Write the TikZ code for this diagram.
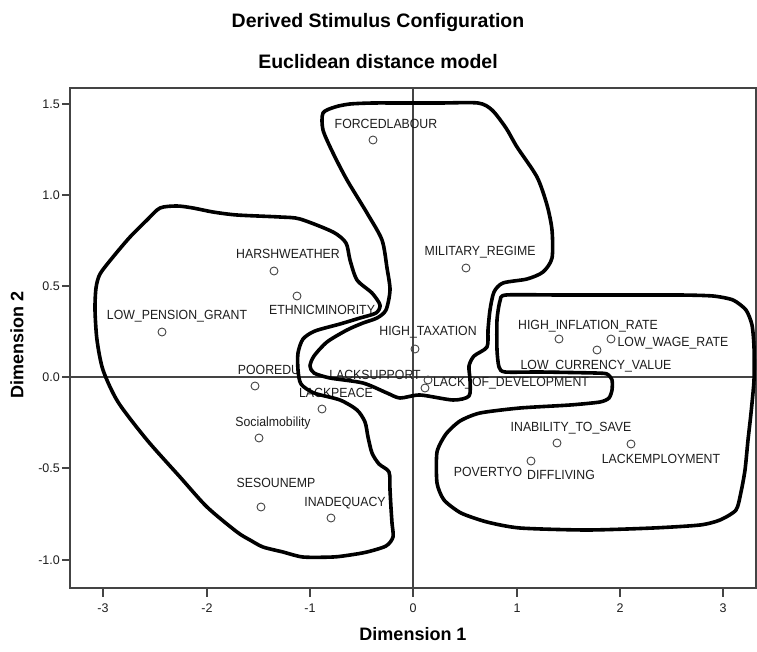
\documentclass[tikz,border=0pt]{standalone}
\usepackage{fontspec}
\setmainfont{Liberation Sans}
\definecolor{axgray}{HTML}{444444}
\definecolor{txtgray}{HTML}{1E1E1E}
\begin{document}
\begin{tikzpicture}[x=1pt,y=-1pt,
  lbl/.style={font=\fontsize{12.3}{14}\selectfont, text=txtgray, inner sep=0pt, yscale=1.08},
  ticklbl/.style={font=\fontsize{12.5}{14}\selectfont, text=txtgray, inner sep=0pt},
  ttl/.style={font=\bfseries\fontsize{19.5}{22}\selectfont, text=black, inner sep=0pt},
  axttl/.style={font=\bfseries\fontsize{18}{20}\selectfont, text=black, inner sep=0pt},
  pt/.style={circle, draw=axgray, line width=0.9pt, minimum size=8pt, inner sep=0pt},
  blob/.style={line width=3.6pt, black, line join=round},
  axisline/.style={draw=axgray, line width=1.2pt}]
\useasboundingbox[fill=white] (0,0) rectangle (757,652);

% frame and axes
\draw[axisline] (70,88) rectangle (756,588);
\coordinate (vt) at (413,88); \coordinate (vb) at (413,588);
\coordinate (hl) at (70,377); \coordinate (hr) at (756,377);
\draw[axisline] (vt) -- (vb);
\draw[axisline] (hl) -- (hr);

% y ticks
\foreach \v/\yy in {1.5/104,1.0/195,0.5/286,0.0/377,-0.5/468,-1.0/560}{
  \draw[axisline] (62,\yy) -- (70,\yy);
  \node[ticklbl, anchor=east] at (60,\yy) {\v};
}
% x ticks
\foreach \v/\xx in {-3/103,-2/207,-1/310,0/413,1/517,2/620,3/723}{
  \draw[axisline] (\xx,588) -- (\xx,597);
  \node[ticklbl] at (\xx,608) {\v};
}

% titles
\node[ttl] (t1) at (378,23) {Derived Stimulus Configuration};
\node[ttl] (t2) at (378,62) {Euclidean distance model};
\node[axttl] (ax1) at (413,634) {Dimension 1};
\node[axttl, rotate=90] (ax2) at (17,345) {Dimension 2};

% points
\node[pt] (p1) at (373,140) {};
\node[pt] (p2) at (274,271) {};
\node[pt] (p3) at (297,296) {};
\node[pt] (p4) at (162,332) {};
\node[pt] (p5) at (466,268) {};
\node[pt] (p6) at (415,349) {};
\node[pt] (p7) at (559,339) {};
\node[pt] (p8) at (611,339) {};
\node[pt] (p9) at (597,350) {};
\node[pt] (p10) at (428,380) {};
\node[pt] (p11) at (425,388) {};
\node[pt] (p12) at (255,386) {};
\node[pt] (p13) at (322,409) {};
\node[pt] (p14) at (259,438) {};
\node[pt] (p15) at (261,507) {};
\node[pt] (p16) at (331,518) {};
\node[pt] (p17) at (557,443) {};
\node[pt] (p18) at (631,444) {};
\node[pt] (p19) at (531,461) {};

% labels
\node[lbl] (l1) at (386,124) {FORCEDLABOUR};
\node[lbl] (l2) at (288,254) {HARSHWEATHER};
\node[lbl] (l3) at (322,310) {ETHNICMINORITY};
\node[lbl] (l4) at (177,316) {LOW\_PENSION\_GRANT};
\node[lbl] (l5) at (480,252) {MILITARY\_REGIME};
\node[lbl] (l6) at (428,332) {HIGH\_TAXATION};
\node[lbl] (l7) at (588,326) {HIGH\_INFLATION\_RATE};
\node[lbl] (l8) at (673,343) {LOW\_WAGE\_RATE};
\node[lbl] (l9) at (596,366) {LOW\_CURRENCY\_VALUE};
\node[lbl] (l10) at (511,383) {LACK\_OF\_DEVELOPMENT};
\node[lbl] (l11) at (375,375) {LACKSUPPORT};
\node[lbl] (l12) at (269,370) {POOREDU};
\node[lbl] (l13) at (336,393) {LACKPEACE};
\node[lbl] (l14) at (273,423) {Socialmobility};
\node[lbl] (l15) at (276,483) {SESOUNEMP};
\node[lbl] (l16) at (345,503) {INADEQUACY};
\node[lbl] (l17) at (571,428) {INABILITY\_TO\_SAVE};
\node[lbl] (l18) at (661,459) {LACKEMPLOYMENT};
\node[lbl] (l19) at (488,472) {POVERTYO};
\node[lbl] (l20) at (561,475) {DIFFLIVING};

% left blob
\draw[blob] plot[smooth cycle, tension=0.45] coordinates {
 (160,208) (177,206) (193,208) (213,212) (237,215) (280,217) (300,219) (333,232) (346,243)
 (350,260) (357,280) (372,293) (380,305) (376,313) (360,318) (340,324) (315,331) (303,339)
 (298,353) (298,370) (301,384) (314,393) (340,400) (357,410) (365,422) (368,437) (372,453)
 (379,464) (389,472) (390,490) (391,508) (392,523) (393,537) (386,546) (367,552) (350,555)
 (333,557) (303,557) (283,552) (263,547) (250,540) (237,532) (207,507) (180,477) (147,440)
 (118,402) (103,370) (97,340) (95,310) (96,288) (100,274) (113,257) (130,237) (147,220)};

% middle blob
\draw[blob] plot[smooth cycle, tension=0.45] coordinates {
 (323,113) (335,107) (350,104) (373,103) (400,103) (440,103) (478,103) (492,110) (506,128)
 (517,147) (537,177) (547,205) (552,230) (552,258) (543,272) (527,279) (503,283) (494,292)
 (490,310) (488,330) (487,347) (474,356) (469,366) (470,380) (469,396) (453,400) (420,395)
 (400,398) (387,393) (363,383) (330,378) (314,373) (310,366) (314,356) (327,342) (347,330)
 (363,323) (377,318) (386,310) (390,290) (387,268) (382,240) (367,213) (347,180) (333,153)
 (323,130)};

% right blob
\draw[blob] plot[smooth cycle, tension=0.4] coordinates {
 (506,295) (560,295) (620,295) (680,295) (713,296) (733,300) (746,310) (752,325) (754,347)
 (754,380) (751,413) (748,440) (745,470) (741,492) (736,510) (720,520) (700,525) (653,528)
 (587,530) (520,528) (487,522) (461,513) (444,500) (437,483) (437,452) (446,434) (460,421)
 (480,413) (520,408) (570,405) (600,402) (609,398) (612,390) (612,380) (607,374) (595,373)
 (540,372) (505,372) (499,367) (497,350) (497,320) (500,301)};
\end{tikzpicture}
\end{document}
